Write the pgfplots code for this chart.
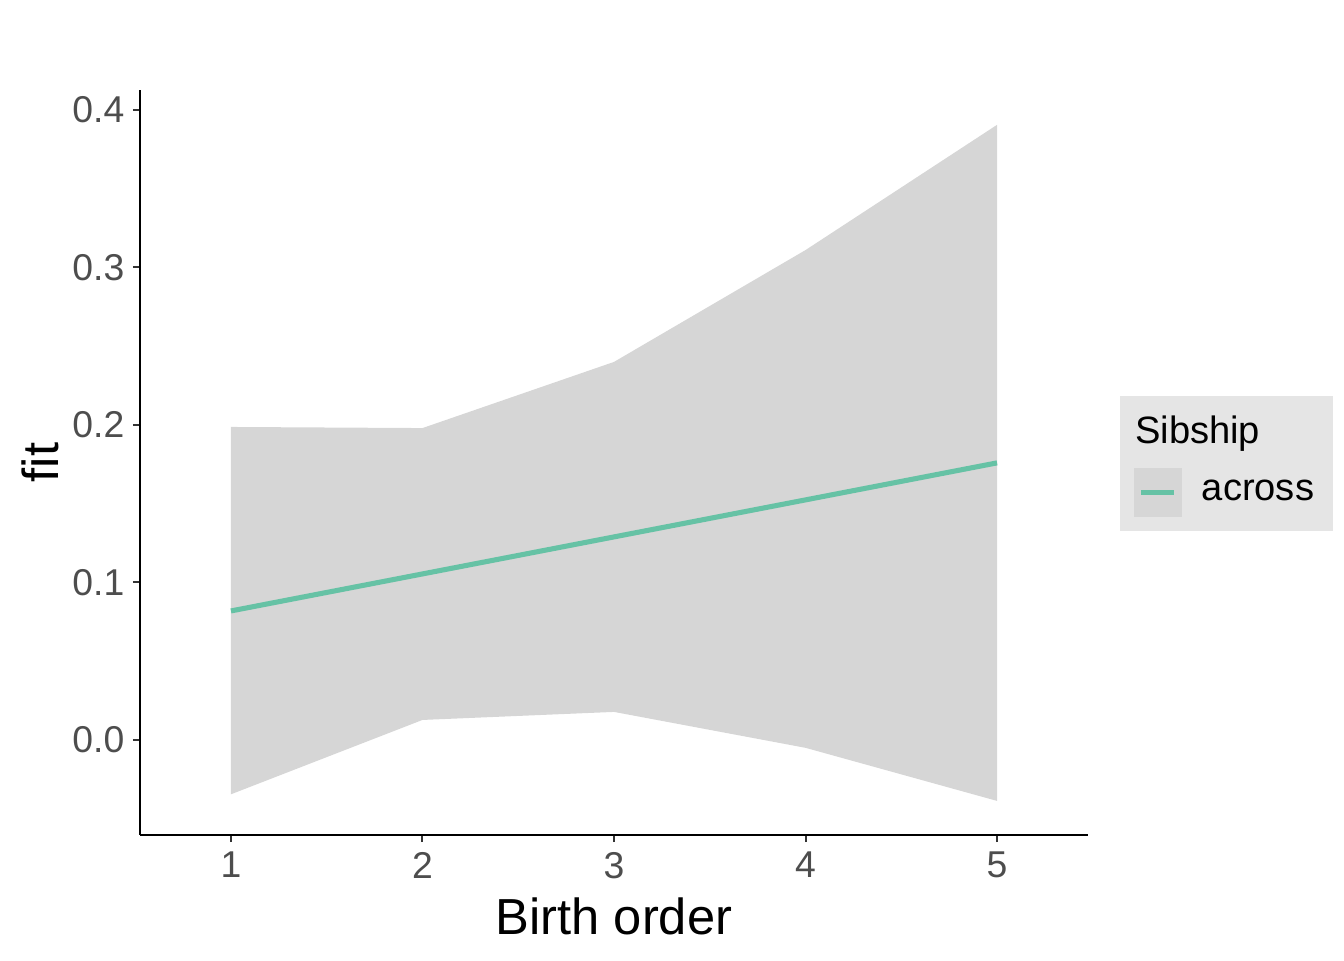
\documentclass[border=0pt]{standalone}
\usepackage{pgfplots}
\pgfplotsset{compat=1.18}
\usepackage{fontspec}
\setmainfont{Liberation Sans}
\definecolor{ribfill}{HTML}{D6D6D6}
\definecolor{lineclr}{HTML}{66C2A5}
\definecolor{legbg}{HTML}{E5E5E5}
\definecolor{ticklab}{HTML}{4D4D4D}
\definecolor{tickclr}{HTML}{333333}
\begin{document}
\begin{tikzpicture}[x=1pt,y=1pt]
\path[use as bounding box] (0,0) rectangle (504,360);
\begin{axis}[
  at={(52.5pt,46.9pt)}, anchor=south west,
  scale only axis, width=355.5pt, height=279.4pt,
  xmin=0.525, xmax=5.475, ymin=-0.0603, ymax=0.4127,
  axis x line*=bottom, axis y line*=left,
  axis line style={black, line width=0.75pt},
  xtick={1,2,3,4,5}, ytick={0,0.1,0.2,0.3,0.4},
  yticklabel style={/pgf/number format/fixed, /pgf/number format/fixed zerofill, /pgf/number format/precision=1},
  /pgf/number format/assume math mode=true,
  tick align=outside, major tick length=2.7pt,
  tick style={tickclr, line width=0.75pt},
  ticklabel style={font=\fontsize{14}{16}\selectfont, text=ticklab},
  xticklabel style={inner sep=1pt, yshift=-2.5pt},
  yticklabel style={inner sep=1pt, xshift=-2pt},
  xlabel={Birth order}, ylabel={fit},
  label style={font=\fontsize{19}{22}\selectfont},
  xlabel style={at={(axis description cs:0.5,0)}, anchor=base, yshift=-37.5pt},
  ylabel style={at={(axis description cs:0,0.5)}, anchor=center, yshift=37.5pt},
  legend style={at={(axis description cs:1.0327,0.5893)}, anchor=north west,
    fill=legbg, draw=none, font=\fontsize{14.3}{16}\selectfont,
    inner xsep=5.25pt, inner ysep=5.3pt, row sep=5.5pt, column sep=5.5pt},
  legend cell align=left,
  clip=false,
]
\addplot[fill=ribfill, draw=none, forget plot] coordinates {
  (1,0.1987) (2,0.1980) (3,0.2400) (4,0.3110) (5,0.3905)
  (5,-0.0387) (4,-0.0050) (3,0.0178) (2,0.0127) (1,-0.0345)
} -- cycle;
\addlegendimage{empty legend}
\addlegendentry{\hspace*{-25pt}Sibship}
\addplot[lineclr, line width=1.9pt,
  legend image code/.code={
    \fill[ribfill] (0pt,-8.3pt) rectangle (16.2pt,8.3pt);
    \draw[lineclr, line width=1.9pt] (1.9pt,0pt) -- (14.3pt,0pt);
  }] coordinates {
  (1,0.0819) (2,0.1054) (3,0.1289) (4,0.1524) (5,0.1759)
};
\addlegendentry{across}
\end{axis}
\end{tikzpicture}
\end{document}
